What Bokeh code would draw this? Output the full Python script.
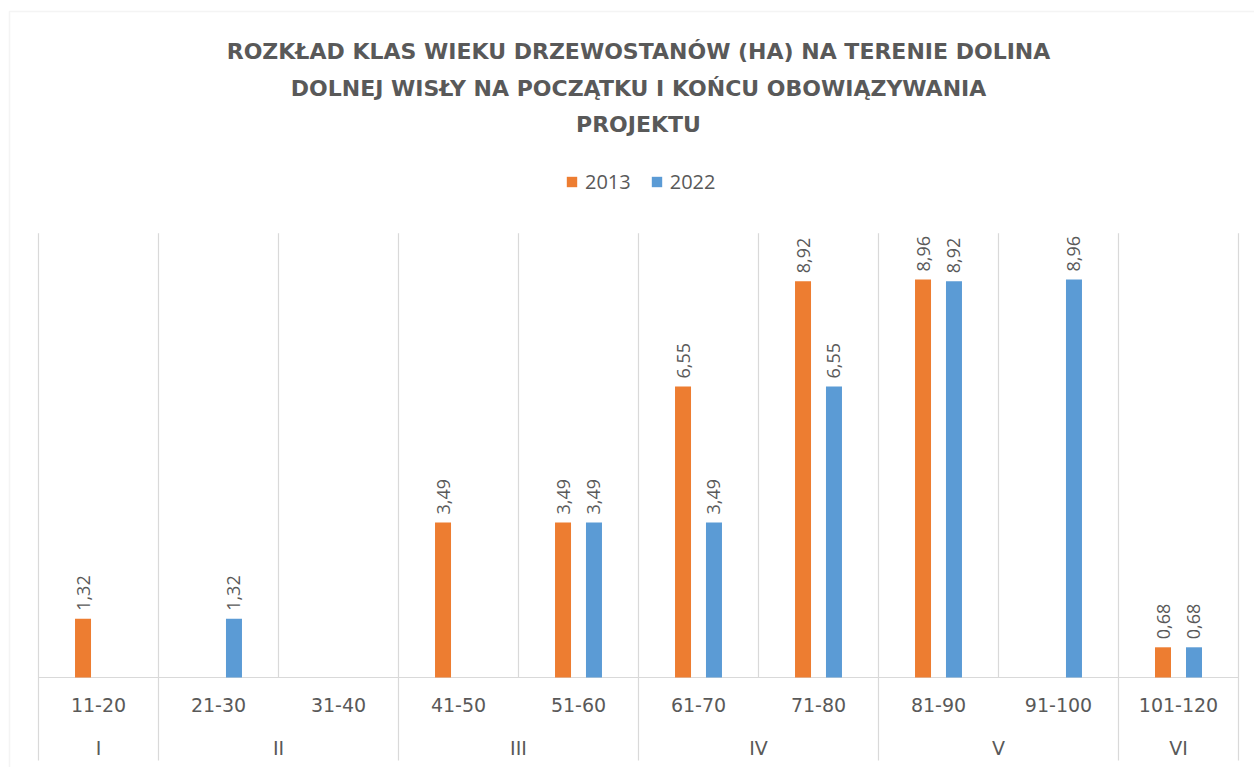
from bokeh.plotting import figure
from bokeh.models import Range1d, Label, Legend, LegendItem, BoxAnnotation, ColumnDataSource
from bokeh.core.properties import value
from bokeh.embed import file_html
from bokeh.resources import INLINE

# ---------------- data ----------------
categories = ["11-20", "21-30", "31-40", "41-50", "51-60",
              "61-70", "71-80", "81-90", "91-100", "101-120"]
groups = ["I", "II", "III", "IV", "V", "VI"]
group_sizes = [1, 2, 2, 2, 2, 1]
series_names = ["2013", "2022"]
v2013 = [1.32, None, None, 3.49, 3.49, 6.55, 8.92, 8.96, None, 0.68]
v2022 = [None, 1.32, None, None, 3.49, 3.49, 6.55, 8.92, 8.96, 0.68]
title_lines = [
    "ROZKŁAD KLAS WIEKU DRZEWOSTANÓW (HA) NA TERENIE DOLINA",
    "DOLNEJ WISŁY NA POCZĄTKU I KOŃCU OBOWIĄZYWANIA",
    "PROJEKTU",
]

# ---------------- layout ----------------
W, H = 1254, 767
px_per_cat = 120.0
left_px = 38.0
zero_px = 677.0
px_per_unit = 44.42
y_max = 10
line_bottom_px = 760.0

ORANGE = "#ED7D31"
BLUE = "#5B9BD5"
GRID = "#d9d9d9"
TXT = "#595959"

n = len(categories)
x_start = -left_px / px_per_cat
x_end = (W - left_px) / px_per_cat
y_end = zero_px / px_per_unit
y_start = -(H - zero_px) / px_per_unit
y_line_bottom = -(line_bottom_px - zero_px) / px_per_unit

p = figure(width=W, height=H, x_range=Range1d(x_start, x_end),
           y_range=Range1d(y_start, y_end), output_backend="svg",
           toolbar_location=None, x_axis_location=None, y_axis_location=None,
           min_border=0, title=None)
p.outline_line_color = None
p.background_fill_color = "white"
p.border_fill_color = "white"
p.xgrid.visible = False
p.ygrid.visible = False

# chart border (left/top visible)
p.add_layout(BoxAnnotation(left=9, right=3000, top=H - 11, bottom=-1000,
                           left_units="screen", right_units="screen",
                           top_units="screen", bottom_units="screen",
                           fill_color=None, line_color=GRID, line_width=1.5))

# grid lines at category boundaries
bounds = [0]
for s in group_sizes:
    bounds.append(bounds[-1] + s)
inner = [b for b in range(n + 1) if b not in bounds]
p.segment(x0=inner, x1=inner, y0=[0] * len(inner), y1=[y_max] * len(inner),
          line_color=GRID, line_width=1.2)
p.segment(x0=bounds, x1=bounds, y0=[y_line_bottom] * len(bounds), y1=[y_max] * len(bounds),
          line_color=GRID, line_width=1.2)
p.segment(x0=[0], x1=[n], y0=[0], y1=[0], line_color=GRID, line_width=1.2)

# bars
centers = [i + 0.5 for i in range(n)]
bw = 16 / px_per_cat
off = 0.129
nan = float("nan")
renderers = []
for vals, o, col in [(v2013, -off, ORANGE), (v2022, off, BLUE)]:
    tops = [nan if v is None else v for v in vals]
    src = ColumnDataSource(dict(x=[c + o for c in centers], top=tops))
    r = p.vbar(x="x", top="top", width=bw, bottom=0, source=src,
               fill_color=col, line_color=None)
    renderers.append(r)
    lx = [c + o for c, v in zip(centers, vals) if v is not None]
    ly = [v for v in vals if v is not None]
    lt = [f"{v:.2f}".replace(".", ",") for v in vals if v is not None]
    p.text(x=lx, y=ly, text=lt, angle=1.5708, text_align="left",
           text_baseline="middle", y_offset=-8, text_color=TXT,
           text_font=value("Open Sans"), text_font_size="18px")

# category labels
p.text(x=centers, y=[0] * n, text=categories, text_align="center",
       text_baseline="middle", y_offset=27, text_color=TXT,
       text_font=value("DejaVu Sans"), text_font_size="19px")
gcenters = [(bounds[i] + bounds[i + 1]) / 2 for i in range(len(groups))]
p.text(x=gcenters, y=[0] * len(groups), text=groups, text_align="center",
       text_baseline="middle", y_offset=70, text_color=TXT,
       text_font=value("DejaVu Sans"), text_font_size="19px")

# title
for i, t in enumerate(title_lines):
    p.add_layout(Label(x=n / 2, y=H - 51 - 36.7 * i, x_units="data", y_units="screen",
                       text=t, text_align="center", text_baseline="middle",
                       text_color=TXT, text_font="DejaVu Sans", text_font_style="bold",
                       text_font_size="22px"))

# legend
legend = Legend(items=[LegendItem(label=series_names[0], renderers=[renderers[0]]),
                       LegendItem(label=series_names[1], renderers=[renderers[1]])],
                orientation="horizontal", location=(565, H - 195),
                padding=0, margin=0, spacing=19, label_standoff=7,
                glyph_width=13, glyph_height=13, border_line_color=None,
                background_fill_alpha=0, label_text_font="Open Sans",
                label_text_font_size="20px", label_text_color=TXT)
p.add_layout(legend, "center")

open("out.html", "w").write(file_html(p, INLINE))
